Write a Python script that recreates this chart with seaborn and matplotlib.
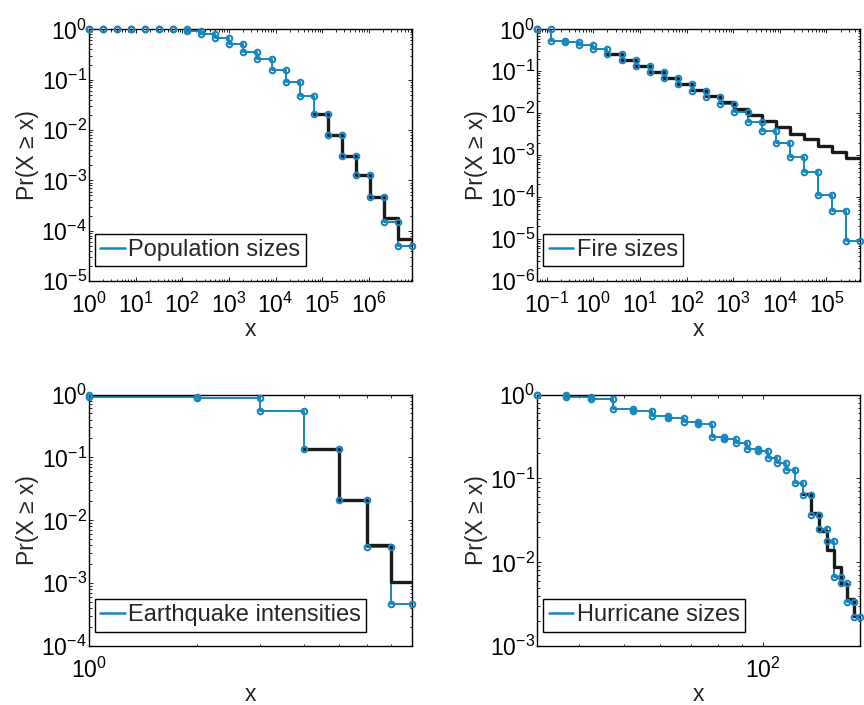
import numpy as np
import pandas as pd
import matplotlib
matplotlib.use("Agg")
import matplotlib.pyplot as plt
from matplotlib.lines import Line2D
from matplotlib.ticker import LogLocator, NullFormatter, FixedLocator
import seaborn as sns

# ---------------- data: log-binned CCDFs (bin edges, level of each bin) ----------------
pop_edges = [1, 2, 4, 8, 16, 32, 64, 128, 256, 512, 1024, 2048, 4096, 8192, 16384,
             32768, 65536, 131072, 262144, 524288, 1048576, 2097152, 4194304, 8388608]
pop_ccdf = [1.0, 1.0, 1.0, 1.0, 1.0, 1.0, 1.0, 0.926, 0.820, 0.672, 0.502, 0.359,
            0.252, 0.159, 0.0918, 0.0483, 0.0211, 0.00805, 0.00311, 0.00128,
            0.000459, 0.000146, 4.99e-5]
pop_fit_start = 16
pop_fit = [0.0211, 0.00805, 0.00311, 0.00128, 0.000474, 0.000175, 6.78e-5]

fire_edges = [0.0625, 0.125, 0.25, 0.5, 1, 2, 4, 8, 16, 32, 64, 128, 256, 512, 1024,
              2048, 4096, 8192, 16384, 32768, 65536, 131072, 262144, 524288]
fire_ccdf = [1.0, 0.5355, 0.497, 0.4295, 0.332, 0.252, 0.181, 0.1325, 0.0969, 0.0709,
             0.0510, 0.0346, 0.0240, 0.0166, 0.01049, 0.00627, 0.00368, 0.00190,
             0.000894, 0.000391, 0.000114, 4.72e-5, 9.04e-6]
fire_fit_start = 5
fire_fit = [0.2615, 0.1844, 0.1349, 0.0969, 0.0709, 0.0510, 0.0366, 0.0253, 0.0182,
            0.0126, 0.00889, 0.00651, 0.00467, 0.00324, 0.00241, 0.00170, 0.00122,
            0.000862]

quake_edges = [1, 2, 3, 4, 5, 6, 7, 8]
quake_ccdf = [0.918, 0.885, 0.557, 0.137, 0.0207, 0.00379, 0.000471]
quake_fit_start = 3
quake_fit = [0.137, 0.0207, 0.00402, 0.00104]

hurr_edges = [32.5, 37.5, 42.5, 47.5, 52.5, 57.5, 62.5, 67.5, 72.5, 77.5, 82.5, 87.5,
              92.5, 97.5, 102.5, 107.5, 112.5, 117.5, 122.5, 127.5, 132.5, 137.5,
              142.5, 147.5, 152.5, 157.5, 162.5]
hurr_ccdf = [0.991, 0.938, 0.896, 0.675, 0.633, 0.552, 0.522, 0.472, 0.451, 0.310,
             0.291, 0.263, 0.225, 0.211, 0.173, 0.152, 0.1265, 0.0877, 0.0637, 0.0368,
             0.0248, 0.0180, 0.00671, 0.00564, 0.00341, 0.00224]
hurr_fit_start = 18
hurr_fit = [0.0649, 0.0385, 0.0233, 0.0141, 0.00875, 0.00554, 0.00364, 0.00232]

labels = ["Population sizes", "Fire sizes", "Earthquake intensities", "Hurricane sizes"]
ylims = [(1e-5, 1), (1e-6, 1), (1e-4, 1), (1e-3, 1)]

BLUE = "#1886be"
BLACK = "#1a1a1a"
FS = 16.5

sns.set_theme(style="white")
plt.rcParams["font.family"] = ["Liberation Sans", "DejaVu Sans"]
plt.rcParams["mathtext.default"] = "regular"
plt.rcParams["axes.unicode_minus"] = True


def stair_frame(edges, levels, start_level=None):
    """Vertices of a staircase: horizontal over each bin, vertical drop at each edge."""
    xs, ys = [], []
    if start_level is not None:
        xs.append(edges[0])
        ys.append(start_level)
    for i, lev in enumerate(levels):
        xs += [edges[i], edges[i + 1]]
        ys += [lev, lev]
    return pd.DataFrame({"x": xs, "p": ys})


def decades_within(lo, hi):
    """Powers of ten that fall inside [lo, hi]."""
    first = int(np.ceil(np.log10(lo) - 1e-9))
    last = int(np.floor(np.log10(hi) + 1e-9))
    return [10.0 ** k for k in range(first, last + 1)]


def panel(ax, edges, ccdf, fit_start, fit, label, ylim):
    ax.set_xscale("log")
    ax.set_yscale("log")
    emp = stair_frame(edges, ccdf, start_level=1.0)
    fitdf = stair_frame(edges[fit_start:], fit)
    sns.lineplot(data=emp, x="x", y="p", sort=False, estimator=None, ax=ax,
                 color=BLUE, linewidth=1.4, zorder=2)
    sns.lineplot(data=fitdf, x="x", y="p", sort=False, estimator=None, ax=ax,
                 color=BLACK, linewidth=2.4, zorder=3)
    sns.lineplot(data=emp, x="x", y="p", sort=False, estimator=None, ax=ax,
                 color=BLUE, linestyle="none", marker="o", markersize=4.0,
                 markerfacecolor="none", markeredgecolor=BLUE,
                 markeredgewidth=1.5, zorder=4, clip_on=False)
    ax.set_xlim(edges[0], edges[-1])
    ax.set_ylim(*ylim)
    ax.xaxis.set_major_locator(FixedLocator(decades_within(edges[0], edges[-1])))
    ax.yaxis.set_major_locator(FixedLocator(decades_within(*ylim)))
    ax.xaxis.set_minor_locator(LogLocator(base=10, subs=np.arange(2, 10) * 0.1, numticks=30))
    ax.yaxis.set_minor_locator(LogLocator(base=10, subs=np.arange(2, 10) * 0.1, numticks=30))
    ax.xaxis.set_minor_formatter(NullFormatter())
    ax.yaxis.set_minor_formatter(NullFormatter())
    ax.set_xlabel("x", fontsize=FS, labelpad=0)
    ax.set_ylabel("Pr(X \u2265 x)", fontsize=FS, labelpad=1.5)
    ax.tick_params(which="both", direction="in", top=True, right=True,
                   bottom=True, left=True, colors="black", width=0.6)
    ax.tick_params(which="major", length=3.2, labelsize=FS)
    ax.tick_params(which="minor", length=1.8)
    ax.tick_params(axis="x", which="major", pad=8.5)
    ax.tick_params(axis="y", which="major", pad=1.5)
    for s in ax.spines.values():
        s.set_color("black")
        s.set_linewidth(1.0)
    handle = Line2D([], [], color=BLUE, linewidth=1.8)
    leg = ax.legend([handle], [label], loc="lower left", bbox_to_anchor=(0.019, 0.058),
                    borderaxespad=0, fontsize=17, frameon=True, fancybox=False,
                    framealpha=1, edgecolor="black", handlelength=1.05,
                    handletextpad=0.13, borderpad=0.22)
    leg.get_frame().set_linewidth(1.0)


fig = plt.figure(figsize=(8.64, 7.05), dpi=100)
positions = [
    [0.1030, 0.6014, 0.3738, 0.3570],
    [0.6219, 0.6014, 0.3735, 0.3570],
    [0.1030, 0.0834, 0.3738, 0.3570],
    [0.6219, 0.0834, 0.3735, 0.3570],
]
series = [
    (pop_edges, pop_ccdf, pop_fit_start, pop_fit),
    (fire_edges, fire_ccdf, fire_fit_start, fire_fit),
    (quake_edges, quake_ccdf, quake_fit_start, quake_fit),
    (hurr_edges, hurr_ccdf, hurr_fit_start, hurr_fit),
]
for pos, (e, c, fs_, f), lab, yl in zip(positions, series, labels, ylims):
    ax = fig.add_axes(pos)
    panel(ax, e, c, fs_, f, lab, yl)

fig.savefig("out.png", dpi=100, facecolor="white")
